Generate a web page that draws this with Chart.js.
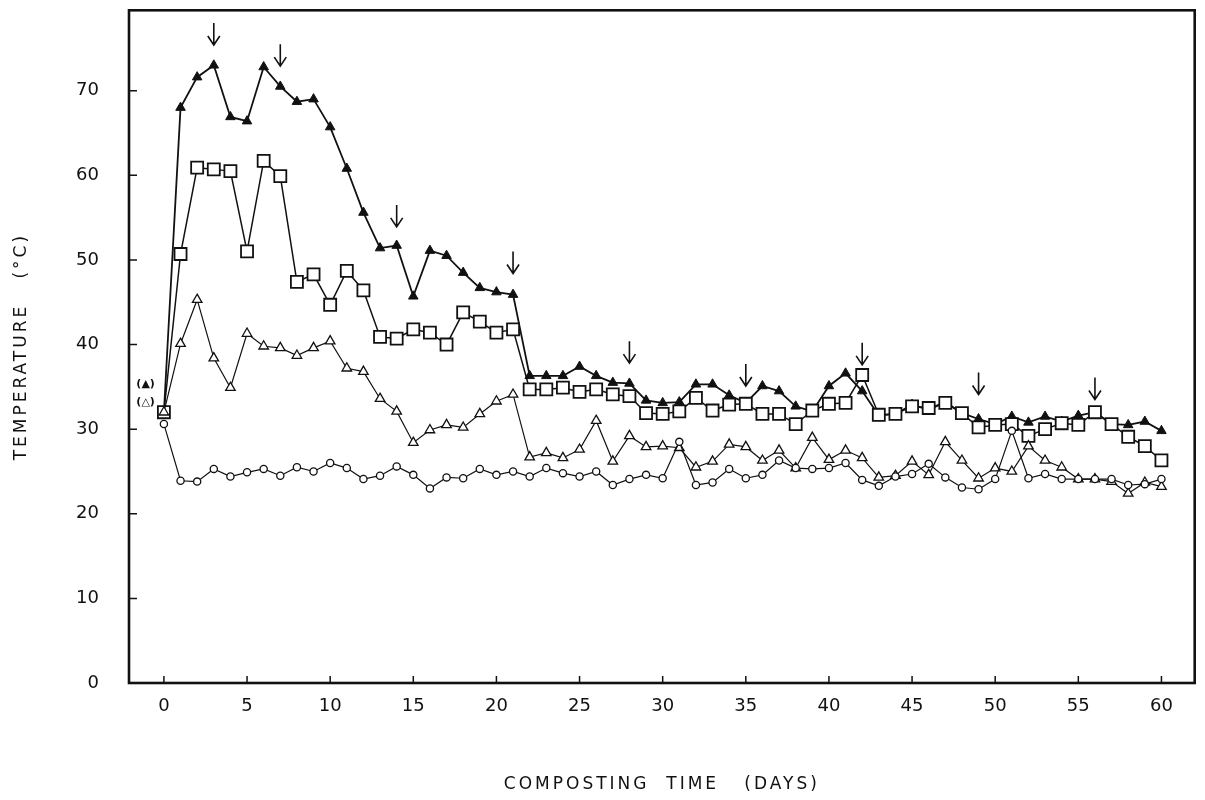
<!DOCTYPE html>
<html>
<head>
<meta charset="utf-8">
<script src="https://cdn.jsdelivr.net/npm/chart.js@4.4.1/dist/chart.umd.min.js"></script>
<style>
  html, body { margin: 0; padding: 0; background: #fff; }
</style>
</head>
<body>
<canvas id="compostChart" width="1205" height="800"></canvas>
<script>
// composting days 0..60
const days = [
  0, 1, 2, 3, 4, 5, 6, 7, 8, 9,
  10, 11, 12, 13, 14, 15, 16, 17, 18, 19,
  20, 21, 22, 23, 24, 25, 26, 27, 28, 29,
  30, 31, 32, 33, 34, 35, 36, 37, 38, 39,
  40, 41, 42, 43, 44, 45, 46, 47, 48, 49,
  50, 51, 52, 53, 54, 55, 56, 57, 58, 59,
  60
];

// filled triangles
const tempFilledTri = [
  32.0, 68.0, 71.6, 73.0, 66.9, 66.4, 72.8, 70.5, 68.7, 69.0,
  65.7, 60.8, 55.6, 51.4, 51.7, 45.7, 51.1, 50.5, 48.5, 46.7,
  46.2, 45.9, 36.3, 36.3, 36.3, 37.4, 36.3, 35.5, 35.4, 33.4,
  33.1, 33.2, 35.3, 35.3, 34.0, 33.1, 35.1, 34.5, 32.7, 32.1,
  35.1, 36.6, 34.5, 31.6, 31.8, 32.9, 32.3, 33.2, 31.9, 31.2,
  30.6, 31.5, 30.8, 31.5, 30.9, 31.6, 32.0, 30.6, 30.5, 30.9,
  29.8
];

// open squares
const tempSquare = [
  32.0, 50.7, 60.9, 60.7, 60.5, 51.0, 61.7, 59.9, 47.4, 48.3,
  44.7, 48.7, 46.4, 40.9, 40.7, 41.8, 41.4, 40.0, 43.8, 42.7,
  41.4, 41.8, 34.7, 34.7, 34.9, 34.4, 34.7, 34.1, 33.9, 31.9,
  31.8, 32.1, 33.7, 32.2, 32.9, 33.0, 31.8, 31.8, 30.6, 32.2,
  33.0, 33.1, 36.4, 31.7, 31.8, 32.7, 32.5, 33.1, 31.9, 30.2,
  30.5, 30.6, 29.2, 30.0, 30.7, 30.5, 32.0, 30.6, 29.1, 28.0,
  26.3
];

// open triangles
const tempOpenTri = [
  32.0, 40.1, 45.3, 38.4, 34.9, 41.3, 39.8, 39.6, 38.7, 39.6,
  40.4, 37.2, 36.8, 33.6, 32.1, 28.4, 29.9, 30.5, 30.2, 31.8,
  33.3, 34.1, 26.7, 27.2, 26.6, 27.6, 31.0, 26.2, 29.2, 27.9,
  28.0, 27.8, 25.5, 26.2, 28.2, 27.9, 26.3, 27.5, 25.4, 29.0,
  26.4, 27.5, 26.6, 24.3, 24.5, 26.2, 24.6, 28.5, 26.3, 24.2,
  25.4, 25.0, 28.0, 26.3, 25.5, 24.1, 24.1, 23.8, 22.4, 23.7,
  23.2
];

// open circles
const tempCircle = [
  30.6, 23.9, 23.8, 25.3, 24.4, 24.9, 25.3, 24.5, 25.5, 25.0,
  26.0, 25.4, 24.1, 24.5, 25.6, 24.6, 23.0, 24.3, 24.2, 25.3,
  24.6, 25.0, 24.4, 25.4, 24.8, 24.4, 25.0, 23.4, 24.1, 24.6,
  24.2, 28.5, 23.4, 23.7, 25.3, 24.2, 24.6, 26.3, 25.4, 25.3,
  25.4, 26.0, 24.0, 23.3, 24.4, 24.7, 25.9, 24.3, 23.1, 22.9,
  24.1, 29.8, 24.2, 24.7, 24.1, 24.1, 24.1, 24.1, 23.4, 23.5,
  24.1
];

// turning days (arrows) and the temperature at each arrow tip
const turnDays = [3, 7, 14, 21, 28, 35, 42, 49, 56];
const turnTipTemp = [75.4, 72.9, 53.9, 48.4, 37.8, 35.1, 37.6, 34.1, 33.5];

const xTicks = [0, 5, 10, 15, 20, 25, 30, 35, 40, 45, 50, 55, 60];
const yTicks = [0, 10, 20, 30, 40, 50, 60, 70];

const xTitle = 'COMPOSTING  TIME   (DAYS)';
const yTitle = 'TEMPERATURE   (\u00B0C)';

const FONT = '"DejaVu Sans", "Liberation Sans", sans-serif';
const INK = '#111';

function pts(values) {
  return days.map((d, i) => ({ x: d, y: values[i] }));
}

// frame around the plot with short inward tick marks
const framePlugin = {
  id: 'frame',
  beforeDatasetsDraw(chart) {
    const { ctx, chartArea: a, scales: { x, y } } = chart;
    ctx.save();
    ctx.strokeStyle = INK;
    ctx.lineWidth = 2.6;
    ctx.strokeRect(a.left, a.top, a.right - a.left, a.bottom - a.top);
    ctx.lineWidth = 1.5;
    ctx.beginPath();
    xTicks.forEach(v => {
      const px = x.getPixelForValue(v);
      ctx.moveTo(px, a.bottom);
      ctx.lineTo(px, a.bottom - 7);
    });
    yTicks.forEach(v => {
      const py = y.getPixelForValue(v);
      ctx.moveTo(a.left, py);
      ctx.lineTo(a.left + 8, py);
    });
    ctx.stroke();
    ctx.restore();
  }
};

// downward arrows at the turning days, start markers at day 0, axis titles
const notesPlugin = {
  id: 'notes',
  afterDatasetsDraw(chart) {
    const { ctx, chartArea: a, scales: { x, y } } = chart;
    ctx.save();
    ctx.strokeStyle = INK;
    ctx.lineWidth = 1.6;
    turnDays.forEach((d, i) => {
      const px = x.getPixelForValue(d);
      const tip = y.getPixelForValue(turnTipTemp[i]);
      ctx.beginPath();
      ctx.moveTo(px, tip - 22);
      ctx.lineTo(px, tip);
      ctx.moveTo(px - 6, tip - 9);
      ctx.lineTo(px, tip);
      ctx.lineTo(px + 6, tip - 9);
      ctx.stroke();
    });
    ctx.fillStyle = INK;
    ctx.font = 'bold 11px ' + FONT;
    ctx.textAlign = 'center';
    ctx.textBaseline = 'middle';
    ctx.fillText('(\u25B2)', x.getPixelForValue(-1.1), y.getPixelForValue(35.3));
    ctx.fillText('(\u25B3)', x.getPixelForValue(-1.1), y.getPixelForValue(33.2));

    ctx.font = '17px ' + FONT;
    ctx.letterSpacing = '3px';
    ctx.fillText(xTitle, (a.left + a.right) / 2, 785);
    ctx.translate(22, (a.top + a.bottom) / 2);
    ctx.rotate(-Math.PI / 2);
    ctx.fillText(yTitle, 0, 0);
    ctx.restore();
  }
};

new Chart(document.getElementById('compostChart'), {
  type: 'line',
  data: {
    datasets: [
      {
        label: 'circle',
        data: pts(tempCircle),
        borderColor: INK,
        borderWidth: 1.2,
        pointStyle: 'circle',
        pointRadius: 3.6,
        pointBorderWidth: 1.3,
        pointBackgroundColor: '#fff',
        pointBorderColor: INK
      },
      {
        label: 'open triangle',
        data: pts(tempOpenTri),
        borderColor: INK,
        borderWidth: 1.2,
        pointStyle: 'triangle',
        pointRadius: 5.5,
        pointBorderWidth: 1.3,
        pointBackgroundColor: '#fff',
        pointBorderColor: INK
      },
      {
        label: 'square',
        data: pts(tempSquare),
        borderColor: INK,
        borderWidth: 1.5,
        pointStyle: 'rect',
        pointRadius: 8.5,
        pointBorderWidth: 1.8,
        pointBackgroundColor: '#fff',
        pointBorderColor: INK
      },
      {
        label: 'filled triangle',
        data: pts(tempFilledTri),
        borderColor: INK,
        borderWidth: 1.8,
        pointStyle: 'triangle',
        pointRadius: 5.5,
        pointBorderWidth: 1,
        pointBackgroundColor: INK,
        pointBorderColor: INK
      }
    ]
  },
  options: {
    responsive: false,
    animation: false,
    layout: { padding: { top: 7, right: 5, left: 0, bottom: 0 } },
    plugins: {
      legend: { display: false },
      tooltip: { enabled: false }
    },
    elements: { line: { tension: 0 } },
    scales: {
      x: {
        type: 'linear',
        min: -2.1,
        max: 62,
        afterFit(scale) {
          scale.height = 117;
          scale.paddingLeft = 0;
          scale.paddingRight = 0;
        },
        afterBuildTicks(scale) { scale.ticks = xTicks.map(v => ({ value: v })); },
        grid: { display: false },
        border: { display: false },
        ticks: {
          color: INK,
          padding: 5,
          font: { family: FONT, size: 18 }
        }
      },
      y: {
        min: 0,
        max: 79.5,
        afterFit(scale) {
          scale.width = 129;
          scale.paddingTop = 0;
          scale.paddingBottom = 0;
        },
        afterBuildTicks(scale) { scale.ticks = yTicks.map(v => ({ value: v })); },
        grid: { display: false },
        border: { display: false },
        ticks: {
          color: INK,
          padding: 22,
          font: { family: FONT, size: 18 }
        }
      }
    }
  },
  plugins: [framePlugin, notesPlugin]
});
</script>
</body>
</html>
